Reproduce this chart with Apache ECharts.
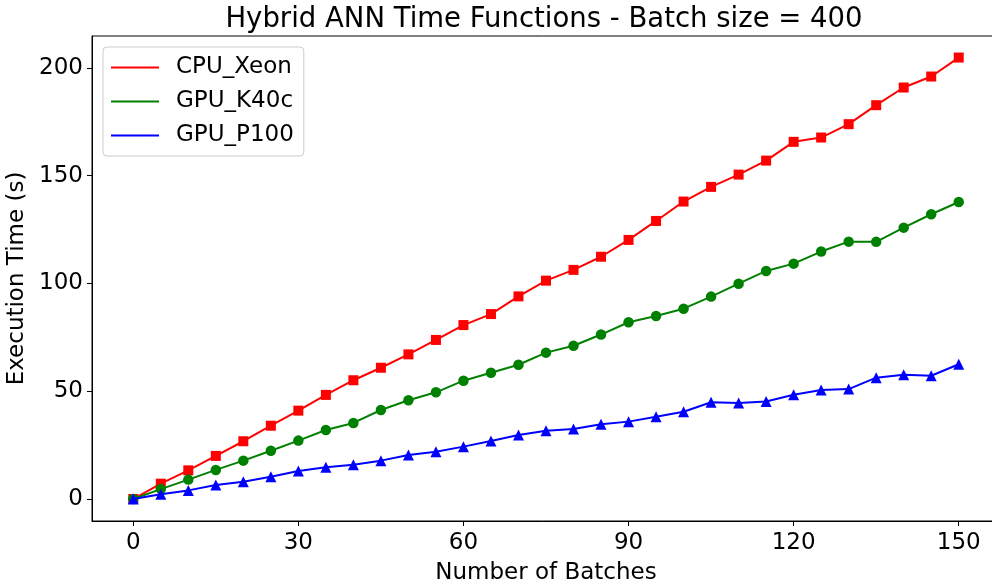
<!DOCTYPE html>
<html>
<head>
<meta charset="utf-8">
<script src="https://cdn.jsdelivr.net/npm/echarts@6/dist/echarts.min.js"></script>
<style>
html,body{margin:0;padding:0;background:#fff;}
#chart{width:992px;height:584px;}
</style>
</head>
<body>
<div id="chart"></div>
<script>
const batches = [0,5,10,15,20,25,30,35,40,45,50,55,60,65,70,75,80,85,90,95,100,105,110,115,120,125,130,135,140,145,150];
const cpuXeon = [0,7.1,13.3,20.0,26.8,34.0,41.0,48.3,55.1,60.9,67.1,73.8,80.7,85.8,94.0,101.3,106.3,112.4,120.2,129.0,138.0,144.8,150.5,157.0,165.7,167.7,173.9,182.7,190.9,196.0,204.8];
const gpuK40c = [0,4.6,9.0,13.5,17.8,22.4,27.1,32.0,35.3,41.3,45.8,49.5,54.9,58.6,62.3,67.9,71.1,76.3,82.0,84.9,88.3,93.9,99.9,105.8,109.2,114.8,119.4,119.3,125.9,132.1,137.8];
const gpuP100 = [0,2.2,4.0,6.5,8.0,10.3,13.0,14.7,15.9,17.8,20.4,21.9,24.3,26.9,29.7,31.7,32.5,34.7,35.9,38.2,40.5,44.9,44.5,45.2,48.4,50.6,51.0,56.3,57.7,57.2,62.5];
const xTicks = [0,30,60,90,120,150];
const yTicks = [0,50,100,150,200];
const seriesNames = ['CPU_Xeon','GPU_K40c','GPU_P100'];
const seriesColors = ['#ff0000','#008000','#0000ff'];
const seriesSymbols = ['rect','circle','triangle'];
const seriesData = [cpuXeon, gpuK40c, gpuP100];

const FONT = 'DejaVu Sans';
const chart = echarts.init(document.getElementById('chart'), null, {renderer:'canvas'});
const symbolSizes = {rect: 10, circle: 10.5, triangle: 11};
const series = seriesNames.map((name,i)=>({
  name: name,
  type: 'line',
  data: batches.map((b,j)=>[b, seriesData[i][j]]),
  symbol: seriesSymbols[i],
  symbolSize: symbolSizes[seriesSymbols[i]],
  showSymbol: true,
  lineStyle: {color: seriesColors[i], width: 2},
  itemStyle: {color: seriesColors[i]},
  animation: false,
  z: 2+i
}));
chart.setOption({
  animation: false,
  backgroundColor: '#ffffff',
  title: {
    text: 'Hybrid ANN Time Functions - Batch size = 400',
    left: 539, top: 1, textAlign: 'center',
    textStyle: {fontFamily: FONT, fontSize: 27.5, fontWeight: 'normal', color: '#000'}
  },
  legend: {
    orient: 'vertical',
    left: 103, top: 47,
    data: seriesNames.map((n,i)=>({name:n, icon:'rect', itemStyle:{color:seriesColors[i]}})),
    itemWidth: 48, itemHeight: 2, itemGap: 11,
    padding: [9,10,9,8],
    borderColor: '#cccccc', borderWidth: 1, borderRadius: 4,
    backgroundColor: 'rgba(255,255,255,0.8)',
    textStyle: {fontFamily: FONT, fontSize: 23, color: '#000', padding:[0,0,0,12]}
  },
  grid: {left: 92, top: 36, width: 908, height: 485, outerBoundsMode: 'none', show: true, borderColor: '#000', borderWidth: 1, backgroundColor: 'transparent', containLabel: false},
  xAxis: {
    type: 'value', min: -7.5, max: 157.5,
    name: 'Number of Batches', nameLocation: 'middle', nameGap: 41,
    nameTextStyle: {fontFamily: FONT, fontSize: 23, color: '#000'},
    axisLine: {show: true, onZero: false, lineStyle: {color: '#000', width: 1}},
    axisTick: {show: true, customValues: xTicks, length: 5, lineStyle: {color: '#000'}},
    axisLabel: {customValues: xTicks, fontFamily: FONT, fontSize: 23, color: '#000', margin: 11},
    splitLine: {show: false}
  },
  yAxis: {
    type: 'value', min: -10.2, max: 214.8,
    name: 'Execution Time (s)', nameLocation: 'middle', nameGap: 52, nameRotate: 90,
    nameTextStyle: {fontFamily: FONT, fontSize: 23, color: '#000'},
    axisLine: {show: true, onZero: false, lineStyle: {color: '#000', width: 1}},
    axisTick: {show: true, customValues: yTicks, length: 5, lineStyle: {color: '#000'}},
    axisLabel: {customValues: yTicks, fontFamily: FONT, fontSize: 23, color: '#000', margin: 9},
    splitLine: {show: false}
  },
  series: series
});
</script>
</body>
</html>
